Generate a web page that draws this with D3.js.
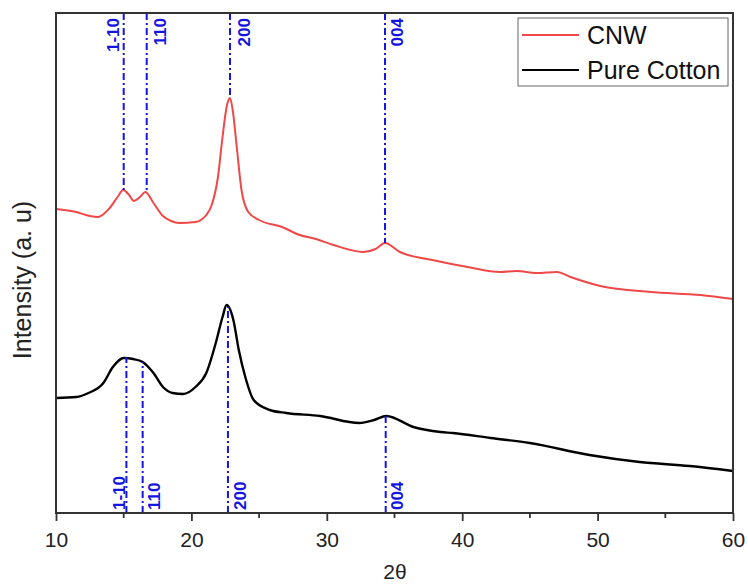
<!DOCTYPE html>
<html>
<head>
<meta charset="utf-8">
<script src="https://cdn.jsdelivr.net/npm/d3@7"></script>
<style>
  body { margin: 0; background: #fff; }
  text { font-family: "Liberation Sans", Arial, sans-serif; }
</style>
</head>
<body>
<svg id="chart"></svg>
<script>
// 2θ / intensity (a.u.)
const cnwTheta = [10, 11.5, 12.5, 13.1, 13.9, 14.6, 14.95, 15.4, 15.75, 16.2, 16.6, 17.2, 17.9, 18.5, 19.1, 20.3, 21.1, 21.5, 21.95,
  22.3, 22.6, 22.85, 23.05, 23.35, 23.7, 24.2, 25, 26.7, 28, 29.2, 30.5, 32.7, 33.6, 34.3, 35.4, 37.8, 40.4,
  42.8, 44, 45.5, 47, 48, 50.2, 53.9, 57.6, 60];
const cnwI = [304, 301, 297, 296, 304, 317, 323, 318, 312, 316, 321, 310, 297, 292, 290, 291, 298, 308, 335,
  376, 406, 415, 403, 366, 323, 301, 293, 286, 278, 274, 268, 261, 264, 270, 261, 253, 246,
  241, 242, 240, 241, 236, 227, 221, 218, 214];

const cottonTheta = [10, 11.5, 12.4, 13.5, 14.2, 15, 15.7, 16.4, 17.2, 17.9, 18.6, 19.4, 20.3, 21.1, 21.8, 22.3,
  22.6, 23.1, 23.5, 24, 24.6, 25.8, 27, 29.5, 32.4, 33.5, 34.4, 36.4, 38.4, 39.3, 42.1, 45, 49.4, 53.1, 56.8, 60];
const cottonI = [115, 116, 120, 130, 146, 155, 154, 151, 140, 126, 120, 119, 126, 140, 170, 196,
  208, 193, 163, 135, 113, 103, 100, 97, 90, 93, 97, 86, 81, 80, 75, 70, 58, 51, 47, 42];

// reflection markers: label, position, intensity where the line meets the curve
const peakLabels = ["1-10", "110", "200", "004"];
const cnwPeakTheta = [15.0, 16.7, 22.85, 34.3];
const cnwPeakI = [323, 321, 415, 270];
const cottonPeakTheta = [15.2, 16.4, 22.7, 34.35];
const cottonPeakI = [156, 151, 206, 97];

const xTicks = [10, 20, 30, 40, 50, 60];
const xMinor = [15, 25, 35, 45, 55];

const width = 748, height = 586;
const margin = { left: 56, right: 15, top: 13, bottom: 73 };

const svg = d3.select("#chart").attr("width", width).attr("height", height);

const x = d3.scaleLinear().domain([10, 60]).range([margin.left, width - margin.right]);
const y = d3.scaleLinear().domain([0, 500]).range([height - margin.bottom, margin.top]);

const line = d3.line()
  .x(d => x(d[0]))
  .y(d => y(d[1]))
  .curve(d3.curveMonotoneX);

const g = svg.append("g");

// curves
g.append("path")
  .datum(d3.zip(cottonTheta, cottonI))
  .attr("fill", "none")
  .attr("stroke", "#000")
  .attr("stroke-width", 2.4)
  .attr("d", line);

g.append("path")
  .datum(d3.zip(cnwTheta, cnwI))
  .attr("fill", "none")
  .attr("stroke", "#f04848")
  .attr("stroke-width", 2)
  .attr("d", line);

// dash-dot markers
const blue = "#1515e0";
const upperOffset = [-5, 19, 20, 18];
const lowerOffset = [-1.5, 17, 18, 17];
peakLabels.forEach((lab, i) => {
  // upper (CNW): from top of frame down to curve
  g.append("line")
    .attr("x1", x(cnwPeakTheta[i])).attr("x2", x(cnwPeakTheta[i]))
    .attr("y1", y(500)).attr("y2", y(cnwPeakI[i]))
    .attr("stroke", blue).attr("stroke-width", 2)
    .attr("stroke-dasharray", "7,3,2,3");
  g.append("text")
    .attr("transform", `translate(${x(cnwPeakTheta[i]) + upperOffset[i]},${y(500) + 5}) rotate(-90)`)
    .attr("text-anchor", "end")
    .attr("fill", blue)
    .attr("font-size", 17)
    .attr("font-weight", "bold")
    .text(lab);

  // lower (cotton): from bottom axis up to curve
  g.append("line")
    .attr("x1", x(cottonPeakTheta[i])).attr("x2", x(cottonPeakTheta[i]))
    .attr("y1", y(0)).attr("y2", y(cottonPeakI[i]))
    .attr("stroke", blue).attr("stroke-width", 2)
    .attr("stroke-dasharray", "7,3,2,3");
  g.append("text")
    .attr("transform", `translate(${x(cottonPeakTheta[i]) + lowerOffset[i]},${y(0) - 3}) rotate(-90)`)
    .attr("text-anchor", "start")
    .attr("fill", blue)
    .attr("font-size", 17)
    .attr("font-weight", "bold")
    .text(lab);
});

// frame
svg.append("rect")
  .attr("x", margin.left).attr("y", margin.top)
  .attr("width", width - margin.left - margin.right)
  .attr("height", height - margin.top - margin.bottom)
  .attr("fill", "none")
  .attr("stroke", "#333")
  .attr("stroke-width", 2);

// x axis
const xAxis = svg.append("g")
  .attr("transform", `translate(0,${y(0)})`)
  .call(d3.axisBottom(x).tickValues(xTicks).tickSize(8).tickPadding(11).tickFormat(d3.format("d")));
xAxis.select(".domain").remove();
xAxis.selectAll(".tick line").attr("stroke", "#333").attr("stroke-width", 1.8);
xAxis.selectAll(".tick text").attr("font-size", 21).attr("fill", "#222")
  .attr("font-family", "'Liberation Sans', Arial, sans-serif");

svg.append("g").selectAll("line")
  .data(xMinor)
  .join("line")
  .attr("x1", d => x(d)).attr("x2", d => x(d))
  .attr("y1", y(0)).attr("y2", y(0) + 5)
  .attr("stroke", "#333").attr("stroke-width", 1.8);

// axis titles
svg.append("text")
  .attr("x", 395).attr("y", 579)
  .attr("text-anchor", "middle")
  .attr("font-size", 21).attr("fill", "#222")
  .text("2θ");

svg.append("text")
  .attr("transform", "translate(31,280) rotate(-90)")
  .attr("text-anchor", "middle")
  .attr("font-size", 25).attr("fill", "#222")
  .text("Intensity (a. u)");

// legend
const legend = svg.append("g");
legend.append("rect")
  .attr("x", 518).attr("y", 18).attr("width", 210).attr("height", 68)
  .attr("fill", "#fff").attr("stroke", "#666").attr("stroke-width", 1);
const legendNames = ["CNW", "Pure Cotton"];
const legendColors = ["#f04848", "#000"];
legendNames.forEach((name, i) => {
  const ly = 35 + i * 35;
  legend.append("line")
    .attr("x1", 522).attr("x2", 579).attr("y1", ly).attr("y2", ly)
    .attr("stroke", legendColors[i]).attr("stroke-width", 1.8);
  legend.append("text")
    .attr("x", 587).attr("y", ly + 9)
    .attr("font-size", 25).attr("fill", "#111")
    .text(name);
});
</script>
</body>
</html>
